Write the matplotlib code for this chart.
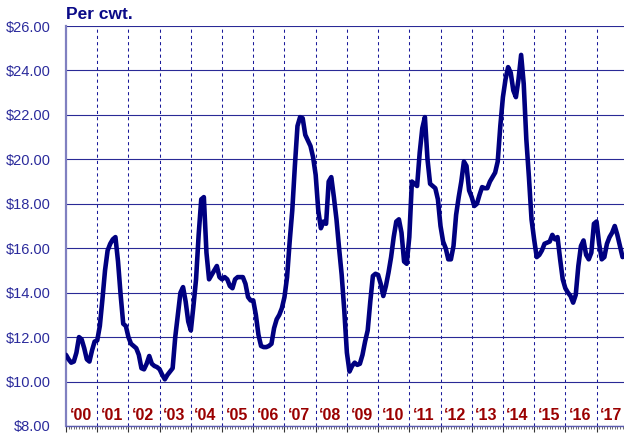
import numpy as np
import matplotlib.pyplot as plt
from matplotlib.ticker import MultipleLocator

plt.rcParams['font.family'] = ['Liberation Sans', 'DejaVu Sans']

# monthly price ($ per cwt), Jan 2000 - Nov 2017
price = [
    # 2000
    11.2, 11.0, 10.85, 10.9, 11.3, 12.0, 11.9, 11.5, 11.0, 10.9, 11.4, 11.8,
    # 2001
    11.85, 12.5, 13.7, 15.0, 15.9, 16.2, 16.4, 16.5, 15.4, 13.9, 12.6, 12.5,
    # 2002
    12.0, 11.7, 11.6, 11.5, 11.2, 10.6, 10.55, 10.8, 11.15, 10.8, 10.7, 10.65,
    # 2003
    10.55, 10.3, 10.1, 10.3, 10.45, 10.6, 12.0, 13.0, 14.0, 14.25, 13.6, 12.7,
    # 2004
    12.3, 13.4, 14.6, 16.6, 18.2, 18.3, 15.8, 14.6, 14.8, 15.0, 15.2, 14.7,
    # 2005
    14.6, 14.7, 14.6, 14.3, 14.2, 14.6, 14.7, 14.7, 14.7, 14.4, 13.8, 13.65,
    # 2006
    13.65, 13.0, 12.1, 11.6, 11.55, 11.55, 11.6, 11.7, 12.4, 12.8, 13.0, 13.3,
    # 2007
    13.8, 14.7, 16.3, 17.7, 19.7, 21.5, 21.9, 21.85, 21.1, 20.85, 20.6, 20.1,
    # 2008
    19.3, 17.7, 16.9, 17.2, 17.1, 19.0, 19.2, 18.3, 17.3, 16.0, 14.8, 13.2,
    # 2009
    11.3, 10.45, 10.7, 10.85, 10.75, 10.8, 11.2, 11.8, 12.3, 13.6, 14.75, 14.85,
    # 2010
    14.8, 14.4, 13.85, 14.3, 14.9, 15.6, 16.5, 17.2, 17.3, 16.7, 15.4, 15.3,
    # 2011
    16.5, 19.0, 18.9, 18.8, 20.3, 21.4, 21.9, 20.0, 18.9, 18.8, 18.7, 18.2,
    # 2012
    17.0, 16.3, 16.0, 15.5, 15.5, 16.1, 17.5, 18.3, 19.0, 19.9, 19.7, 18.6,
    # 2013
    18.3, 17.9, 18.0, 18.4, 18.75, 18.7, 18.7, 19.0, 19.2, 19.4, 19.9, 21.5,
    # 2014
    22.8, 23.6, 24.15, 23.9, 23.1, 22.8, 23.6, 24.7, 23.4, 20.9, 19.2, 17.3,
    # 2015
    16.4, 15.6, 15.7, 15.9, 16.2, 16.25, 16.3, 16.6, 16.4, 16.5, 15.5, 14.6,
    # 2016
    14.2, 14.0, 13.85, 13.55, 13.9, 15.2, 16.1, 16.35, 15.7, 15.5, 15.8, 17.1,
    # 2017
    17.2, 16.2, 15.5, 15.6, 16.2, 16.5, 16.7, 17.0, 16.6, 16.1, 15.6,
]
start_year = 2000
year_labels = ["\u201800", "\u201801", "\u201802", "\u201803", "\u201804", "\u201805",
               "\u201806", "\u201807", "\u201808", "\u201809", "\u201810", "\u201811",
               "\u201812", "\u201813", "\u201814", "\u201815", "\u201816", "\u201817"]
y_ticks = [8, 10, 12, 14, 16, 18, 20, 22, 24, 26]

x = start_year + np.arange(len(price)) / 12.0

fig = plt.figure(figsize=(6.24, 4.37), dpi=100)
ax = fig.add_axes([0.1058, 0.0252, 0.8942, 0.9153])

ax.plot(x, price, color='#000080', lw=3.3, solid_joinstyle='round',
        solid_capstyle='round', zorder=3)

ax.set_xlim(2000, 2017.88)
ax.set_ylim(8, 26)

# horizontal grid
ax.set_yticks(y_ticks)
ax.set_yticklabels(['$%.2f' % v for v in y_ticks])
ax.yaxis.grid(True, color='#2a2a96', lw=0.8)
ax.tick_params(axis='y', length=0, pad=11, labelsize=10.5, labelcolor='#2b2b9c')

# year boundaries
for yr in range(2001, 2018):
    ax.axvline(yr, color='#1a1a9a', lw=0.75, ls=(0, (3, 3)), zorder=1)

ax.xaxis.set_major_locator(MultipleLocator(1))
ax.xaxis.set_minor_locator(MultipleLocator(1 / 12))
ax.tick_params(axis='x', which='major', length=4, width=0.8, color='#333333',
               labelbottom=False)
ax.tick_params(axis='x', which='minor', length=2.5, width=0.6, color='#555555')

for i, lab in enumerate(year_labels):
    ax.text(start_year + i + 0.47, 8.27, lab, ha='center', va='baseline',
            fontsize=11.5, fontweight='bold', color='#9a0000')

ax.text(0, 1.0175, 'Per cwt.', transform=ax.transAxes, ha='left',
        va='baseline', fontsize=12.5, fontweight='bold', color='#0a0a88')

for s in ['top', 'right']:
    ax.spines[s].set_visible(False)
ax.spines['left'].set_color('#8080c0')
ax.spines['left'].set_linewidth(1.6)
ax.spines['bottom'].set_color('#5c5cb0')
ax.spines['bottom'].set_linewidth(1.0)

fig.savefig('out.png', dpi=100)
